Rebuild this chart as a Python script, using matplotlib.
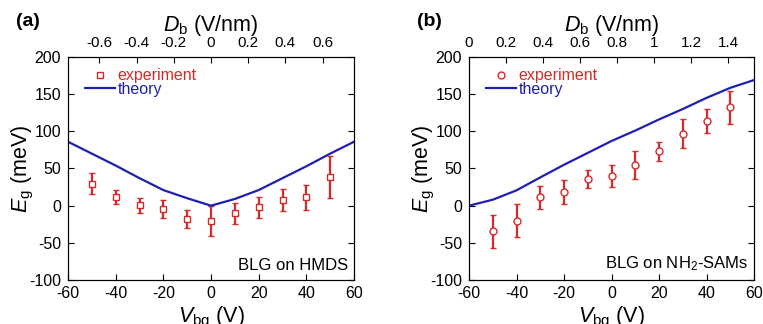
import numpy as np
import matplotlib
matplotlib.use("Agg")
import matplotlib.pyplot as plt
from matplotlib.lines import Line2D

plt.rcParams['font.family'] = ['Liberation Sans', 'DejaVu Sans']
plt.rcParams['mathtext.fontset'] = 'custom'
plt.rcParams['mathtext.rm'] = 'Liberation Sans'
plt.rcParams['mathtext.it'] = 'Liberation Sans:italic'
plt.rcParams['axes.unicode_minus'] = False

# gate voltage (V)
v_exp = [-50, -40, -30, -20, -10, 0, 10, 20, 30, 40, 50]
v_theory = [-60, -50, -40, -30, -20, -10, 0, 10, 20, 30, 40, 50, 60]

# (a) BLG on HMDS
eg_exp_a = [29.6, 11.7, 0.5, -5, -17.5, -21, -10, -2, 8, 11, 38.6]
err_a = [14, 10, 10, 12, 12, 20, 14, 14, 15, 17, 28]
eg_theory_a = [86, 70, 54, 37, 21, 10, 0, 9, 21, 37, 53, 70, 86]

# (b) BLG on NH2-SAMs
eg_exp_b = [-34.6, -20, 11, 18, 36, 39.5, 55, 73, 97, 114, 132.5]
err_b = [22, 22, 15, 16, 12, 15, 19, 13, 19, 16, 22]
eg_theory_b = [0, 8, 20.6, 38, 55, 71, 87, 101, 116, 130, 145, 158.5, 169]

red = '#d42a2a'
blue = '#1f1fb0'

fig = plt.figure(figsize=(7.63, 3.24), dpi=100)
W, H = 763, 324


def make_panel(left, right, tag, tag_x, marker, eg_exp, err, eg_th, note, d_offset, d_ticks, d_labels):
    ax = fig.add_axes([left / W, 1 - 280 / H, (right - left) / W, (280 - 57) / H])
    ax.errorbar(v_exp, eg_exp, yerr=err, fmt=marker, color=red, mfc='white', mec=red,
                ms=5, mew=1.0, elinewidth=1.6, capsize=2.5, capthick=1.4)
    ax.plot(v_theory, eg_th, color=blue, lw=1.6)
    ax.set_xlim(-60, 60)
    ax.set_ylim(-100, 200)
    ax.set_xticks(range(-60, 61, 20))
    ax.set_yticks(range(-100, 201, 50))
    ax.tick_params(direction='in', top=False, right=True, labelsize=11.5, length=4)
    ax.tick_params(axis='x', pad=4)
    ax.tick_params(axis='y', pad=5)
    ax.set_xlabel(r'$V_{\rm bg}$ (V)', fontsize=15.5, labelpad=3)
    ax.set_ylabel(r'$E_{\rm g}$ (meV)', fontsize=15.5, labelpad=-5)
    ax.text(0.98, 0.03, note, transform=ax.transAxes, ha='right', va='bottom', fontsize=12)

    h = [Line2D([], [], ls='none', marker=marker, ms=5, mfc='white', mec=red, mew=1.0),
         Line2D([], [], color=blue, lw=1.6)]
    leg = ax.legend(h, ['experiment', 'theory'], loc='upper left', frameon=False, fontsize=11.5,
                    bbox_to_anchor=(0.02, 1.0), handlelength=1.9, handletextpad=0.15,
                    labelspacing=-0.1, borderaxespad=0.3)
    leg.get_texts()[0].set_color(red)
    leg.get_texts()[1].set_color(blue)

    # top axis: displacement field
    top = ax.twiny()
    top.set_xlim((-60 + d_offset) / 78, (60 + d_offset) / 78)
    top.set_xticks(d_ticks)
    top.set_xticklabels(d_labels)
    top.tick_params(direction='in', labelsize=11, length=4, pad=5)
    top.set_xlabel(r'$D_{\rm b}$ (V/nm)', fontsize=15.5, labelpad=4)

    fig.text(tag_x / W, 1 - 22 / H, tag, fontsize=14, fontweight='bold', ha='left', va='center')
    return ax


make_panel(68, 354, '(a)', 16, 's', eg_exp_a, err_a, eg_theory_a, 'BLG on HMDS', 0,
           [-0.6, -0.4, -0.2, 0, 0.2, 0.4, 0.6],
           ['-0.6', '-0.4', '-0.2', '0', '0.2', '0.4', '0.6'])
make_panel(469, 754, '(b)', 417, 'o', eg_exp_b, err_b, eg_theory_b, 'BLG on NH$_2$-SAMs', 60,
           [0, 0.2, 0.4, 0.6, 0.8, 1.0, 1.2, 1.4],
           ['0', '0.2', '0.4', '0.6', '0.8', '1', '1.2', '1.4'])

fig.savefig('out.png', dpi=100)
